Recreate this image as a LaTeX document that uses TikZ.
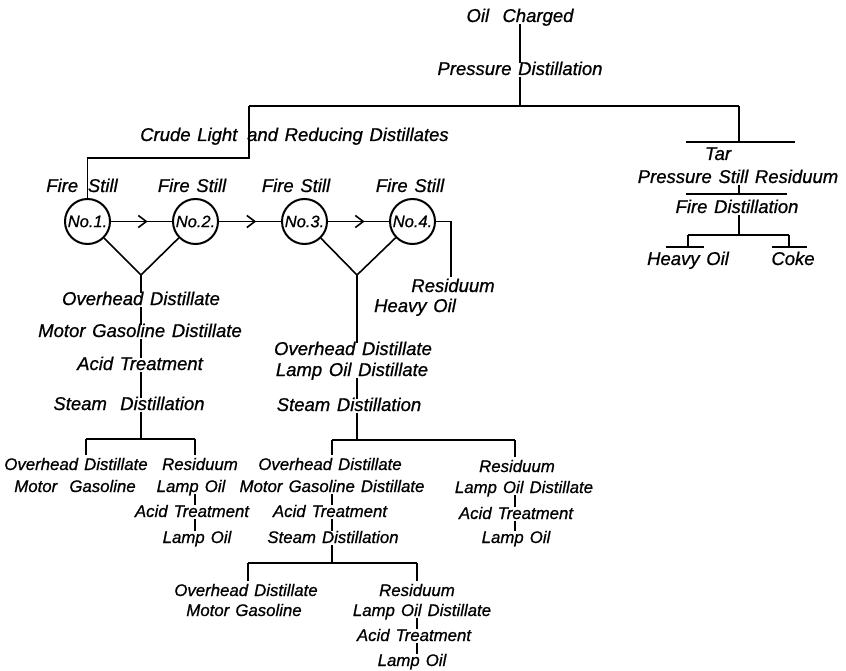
\documentclass[tikz,border=0pt]{standalone}
\usepackage{fontspec}
\setmainfont{Liberation Sans}[WordSpace=1.3,FakeBold=0.8]
\usetikzlibrary{arrows.meta,decorations.markings}
\begin{document}
\begin{tikzpicture}[x=1pt,y=-1pt]
\tikzset{
 lbl/.style={font=\itshape\fontsize{18.5}{20}\selectfont, inner sep=0pt, text height=12pt, text depth=2pt, anchor=base},
 sm/.style={font=\itshape\fontsize{16.8}{18}\selectfont},
 ln/.style={line width=1.6pt},
 still/.style={circle, draw, line width=2pt, minimum size=45pt, inner sep=0pt, font=\itshape\fontsize{16.5}{17}\selectfont},
 midarrow/.style={postaction={decorate}, decoration={markings, mark=at position 0.6 with {\arrow{Straight Barb[length=8pt,width=12pt,line width=1.6pt]}}}},
 drop/.style={line width=1.6pt, shorten >=3pt}
}
\useasboundingbox (0,0) rectangle (846,671);

% ---- top
\node[lbl] (oil) at (520,22) {Oil\ \ Charged};
\node[lbl] (pd) at (520,75) {Pressure Distillation};
\node[lbl, anchor=base west] (crude) at (140,141) {Crude Light\ \,and Reducing Distillates};
\coordinate (hl) at (249,106);
\coordinate (hr) at (739,106);
\draw[ln] (oil.south) -- (pd.north);
\draw[ln] (pd.south) -- (pd.south |- hl);
\draw[ln] (hl) -- (hr);

% ---- tar branch
\coordinate (tarL) at (686,142);
\coordinate (tarR) at (795,142);
\node[lbl] (tar) at (718,160) {Tar};
\node[lbl] (psr) at (738,183) {Pressure Still Residuum};
\coordinate (psbL) at (686,194);
\coordinate (psbR) at (787,194);
\node[lbl] (fd) at (737,213) {Fire Distillation};
\coordinate (fdL) at (688,235);
\coordinate (fdR) at (789,235);
\coordinate (hoL) at (666,247);
\coordinate (hoR) at (704,247);
\coordinate (coL) at (772,247);
\coordinate (coR) at (807,247);
\node[lbl] (ho) at (688,265) {Heavy Oil};
\node[lbl] (coke) at (793,265) {Coke};
\draw[ln] (hr) -- (hr |- tarL);
\draw[ln] (tarL) -- (tarR);
\draw[ln] (psr.south -| hr) -- (psbL -| hr);
\draw[ln] (psbL) -- (psbR);
\draw[ln] (fd.south -| hr) -- (fdL -| hr);
\draw[ln] (fdL) -- (fdR);
\draw[ln] (fdL) -- (fdL |- hoL);
\draw[ln] (fdR) -- (fdR |- coL);
\draw[ln] (hoL) -- (hoR);
\draw[ln] (coL) -- (coR);

% ---- fire stills
\node[still] (c1) at (87.5,221.5) {No.1.};
\node[still] (c2) at (195.5,221.5) {No.2.};
\node[still] (c3) at (304.5,221.5) {No.3.};
\node[still] (c4) at (412.5,221.5) {No.4.};
\node[lbl] (fs1) at (82,192) {Fire\ \,Still};
\node[lbl] (fs2) at (192,192) {Fire Still};
\node[lbl] (fs3) at (296,192) {Fire Still};
\node[lbl] (fs4) at (410,192) {Fire Still};
\coordinate (cl) at (87.5,158);
\draw[ln] (hl) -- (hl |- cl) -- (cl) -- (c1.north);
\draw[ln, midarrow] (c1) -- (c2);
\draw[ln, midarrow] (c2) -- (c3);
\draw[ln, midarrow] (c3) -- (c4);
\coordinate (v1) at (141,275);
\coordinate (v2) at (357,275);
\draw[ln] (c1) -- (v1) -- (c2);
\draw[ln] (c3) -- (v2) -- (c4);
\coordinate (r4) at (451,277);
\draw[ln] (c4.east) -- (c4.east -| r4) -- (r4);
\node[lbl] (res4) at (453,292) {Residuum};
\node[lbl] (heavy4) at (415,312) {Heavy Oil};

% ---- left column
\node[lbl] (od1) at (141,305) {Overhead Distillate};
\node[lbl] (mgd1) at (140,337) {Motor Gasoline Distillate};
\node[lbl] (at1) at (140,370) {Acid Treatment};
\node[lbl] (sd1) at (129,410) {Steam\ \ Distillation};
\coordinate (b1L) at (86,439);
\coordinate (b1R) at (195,439);
\draw[ln] (v1) -- (v1 |- od1.north);
\draw[ln] (od1.south -| v1) -- (mgd1.north -| v1);
\draw[ln] (mgd1.south -| v1) -- (at1.north -| v1);
\draw[ln] (at1.south -| v1) -- (sd1.north -| v1);
\draw[ln] (sd1.south -| v1) -- (v1 |- b1L);
\draw[ln] (b1L) -- (b1R);

\node[lbl, sm] (od2) at (76,470) {Overhead Distillate};
\node[lbl, sm] (mg2) at (75,492) {Motor\ \ Gasoline};
\node[lbl, sm] (res2) at (200,470) {Residuum};
\node[lbl, sm] (lo2) at (191,492) {Lamp Oil};
\node[lbl, sm] (at2) at (192,517) {Acid Treatment};
\node[lbl, sm] (lo2b) at (197,543) {Lamp Oil};
\draw[drop] (b1L) -- (b1L |- od2.north);
\draw[drop] (b1R) -- (b1R |- res2.north);
\draw[ln] (lo2.south -| b1R) -- (at2.north -| b1R);
\draw[ln] (at2.south -| b1R) -- (lo2b.north -| b1R);

% ---- middle column
\node[lbl] (od3) at (353,355) {Overhead Distillate};
\node[lbl] (lod3) at (352,376) {Lamp Oil Distillate};
\node[lbl] (sd3) at (349,411) {Steam Distillation};
\coordinate (b3L) at (332,440);
\coordinate (b3R) at (515,440);
\draw[ln] (v2) -- (v2 |- od3.north);
\draw[ln] (lod3.south -| v2) -- (sd3.north -| v2);
\draw[ln] (sd3.south -| v2) -- (v2 |- b3L);
\draw[ln] (b3L) -- (b3R);

\node[lbl, sm] (od4) at (330,470) {Overhead Distillate};
\node[lbl, sm] (mgd4) at (332,492) {Motor Gasoline Distillate};
\node[lbl, sm] (at4) at (330,517) {Acid Treatment};
\node[lbl, sm] (sd4) at (333,543) {Steam Distillation};
\draw[drop] (b3L) -- (b3L |- od4.north);
\draw[ln] (mgd4.south -| b3L) -- (at4.north -| b3L);
\draw[ln] (at4.south -| b3L) -- (sd4.north -| b3L);

\node[lbl, sm] (res6) at (517,472) {Residuum};
\node[lbl, sm] (lod6) at (524,493) {Lamp Oil Distillate};
\node[lbl, sm] (at6) at (516,519) {Acid Treatment};
\node[lbl, sm] (lo6) at (516,543) {Lamp Oil};
\draw[drop] (b3R) -- (b3R |- res6.north);
\draw[ln] (lod6.south -| b3R) -- (at6.north -| b3R);
\draw[ln] (at6.south -| b3R) -- (lo6.north -| b3R);

% ---- bottom
\coordinate (b5L) at (248,563);
\coordinate (b5R) at (417,563);
\draw[ln] (sd4.south -| b3L) -- (b3L |- b5L);
\draw[ln] (b5L) -- (b5R);
\node[lbl, sm] (od5) at (246,596) {Overhead Distillate};
\node[lbl, sm] (mg5) at (244,616) {Motor Gasoline};
\node[lbl, sm] (res5) at (417,596) {Residuum};
\node[lbl, sm] (lod5) at (422,616) {Lamp Oil Distillate};
\node[lbl, sm] (at5) at (414,641) {Acid Treatment};
\node[lbl, sm] (lo5) at (412,666) {Lamp Oil};
\draw[drop] (b5L) -- (b5L |- od5.north);
\draw[drop] (b5R) -- (b5R |- res5.north);
\draw[ln] (lod5.south -| b5R) -- (at5.north -| b5R);
\draw[ln] (at5.south -| b5R) -- (lo5.north -| b5R);
\end{tikzpicture}
\end{document}
